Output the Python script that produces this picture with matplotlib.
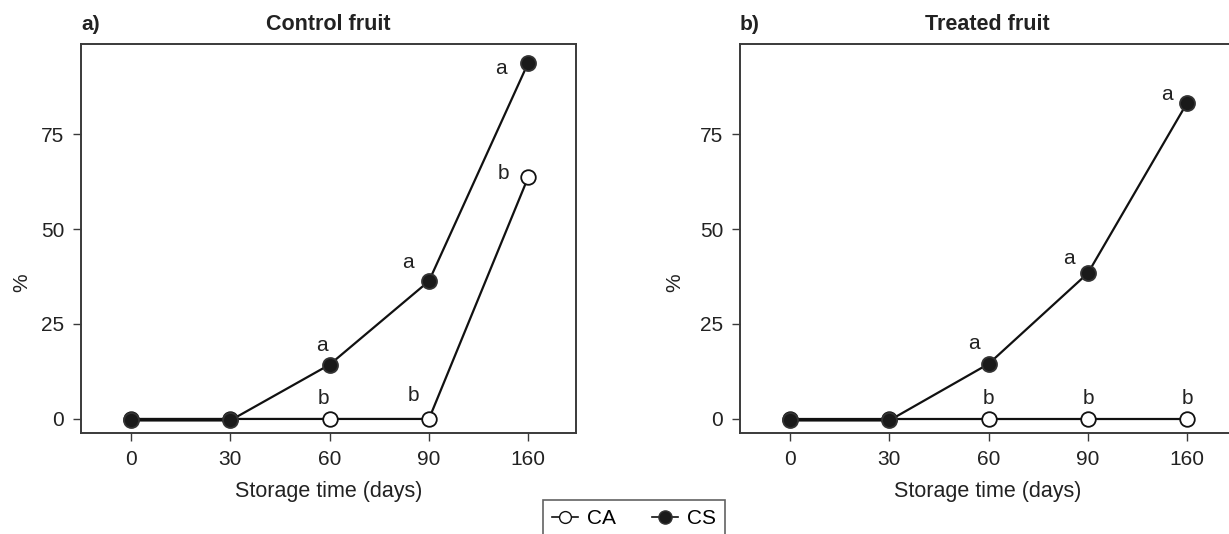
import matplotlib
matplotlib.use("Agg")
import matplotlib.pyplot as plt
from matplotlib.lines import Line2D

plt.rcParams['font.family'] = ['Liberation Sans', 'DejaVu Sans']

days = ["0", "30", "60", "90", "160"]
yticks = [0, 25, 50, 75]

control_ca = [0, 0, 0, 0, 63.7]
control_cs = [-0.4, -0.4, 14.3, 36.3, 93.8]
treated_ca = [0, 0, 0, 0, 0]
treated_cs = [-0.4, -0.4, 14.5, 38.4, 83.3]

control_ca_letters = ["", "", "b", "b", "b"]
control_cs_letters = ["", "", "a", "a", "a"]
treated_ca_letters = ["", "", "b", "b", "b"]
treated_cs_letters = ["", "", "a", "a", "a"]

# label offsets in pixels (dx, dy) relative to points
control_ca_off = [(0, 0), (0, 0), (-6, 20), (-16, 23), (-25, 3)]
control_cs_off = [(0, 0), (0, 0), (-8, 19), (-21, 19), (-27, -6)]
treated_ca_off = [(0, 0), (0, 0), (0, 20), (0, 20), (0, 20)]
treated_cs_off = [(0, 0), (0, 0), (-15, 20), (-19, 15), (-20, 8)]

W, H = 1229, 534
fig = plt.figure(figsize=(W / 100, H / 100), dpi=100)

spine_col = "#3a3a3a"
txt_col = "#222222"
FS = 15


def px(xp, yp):
    return xp / W, 1 - yp / H


def make_panel(x0px, ca, cs, ca_let, cs_let, ca_off, cs_off, tag, title, ylab_x):
    ax = fig.add_axes([x0px / W, 1 - 433 / H, (576 - 81) / W, (433 - 44) / H])
    x = list(range(len(days)))
    ax.plot(x, ca, color="#111111", lw=1.6, marker="o", ms=10.5,
            mfc="white", mec="#111111", mew=1.3, zorder=3)
    ax.plot(x, cs, color="#111111", lw=1.6, marker="o", ms=10.8,
            mfc="#1a1a1a", mec="#333333", mew=1.3, zorder=4)
    for vals, lets, offs in ((ca, ca_let, ca_off), (cs, cs_let, cs_off)):
        for xi, yi, t, (dx, dy) in zip(x, vals, lets, offs):
            if t:
                ax.annotate(t, (xi, yi), xytext=(dx * 0.72, dy * 0.72),
                            textcoords="offset points", ha="center", va="center",
                            fontsize=FS, color=txt_col)
    ax.set_xlim(-0.503, 4.48)
    ax.set_ylim(-3.7, 98.7)
    ax.set_xticks(x)
    ax.set_xticklabels(days)
    ax.set_yticks(yticks)
    ax.set_yticklabels([str(v) for v in yticks])
    ax.tick_params(axis="both", length=5.5, width=1.0, color=spine_col,
                   labelsize=FS, labelcolor=txt_col)
    ax.tick_params(axis="y", pad=6.5)
    ax.tick_params(axis="x", pad=6.5)
    for s in ax.spines.values():
        s.set_color(spine_col)
        s.set_linewidth(1.4)
    ax.set_xlabel("Storage time (days)", fontsize=FS + 0.5, color=txt_col, labelpad=9)
    fig.text(*px(ylab_x, 283), "%", rotation=90, ha="center", va="center",
             fontsize=FS, color=txt_col)
    fig.text(*px(x0px, 24), tag, ha="left", va="center",
             fontsize=FS, fontweight="bold", color=txt_col)
    fig.text(*px(x0px + 247, 24), title, ha="center", va="center",
             fontsize=FS + 0.5, fontweight="bold", color=txt_col)
    return ax


ax1 = make_panel(81, control_ca, control_cs, control_ca_letters, control_cs_letters,
                 control_ca_off, control_cs_off, "a)", "Control fruit", 22)
ax2 = make_panel(740, treated_ca, treated_cs, treated_ca_letters, treated_cs_letters,
                 treated_ca_off, treated_cs_off, "b)", "Treated fruit", 675)

handles = [
    Line2D([], [], color="#111111", lw=1.2, marker="o", ms=8.5, mfc="white", mec="#111111"),
    Line2D([], [], color="#111111", lw=1.2, marker="o", ms=9.5, mfc="#1a1a1a", mec="#333333"),
]
leg = fig.legend(handles, ["CA", "CS"], loc="upper center",
                 bbox_to_anchor=(634 / W, 1 - 500 / H), ncol=2, frameon=True,
                 fancybox=False, edgecolor=spine_col, fontsize=FS,
                 handlelength=1.25, handletextpad=0.45, columnspacing=1.7,
                 borderpad=0.45, borderaxespad=0)
leg.get_frame().set_linewidth(1.2)

fig.savefig("out.png", dpi=100)
